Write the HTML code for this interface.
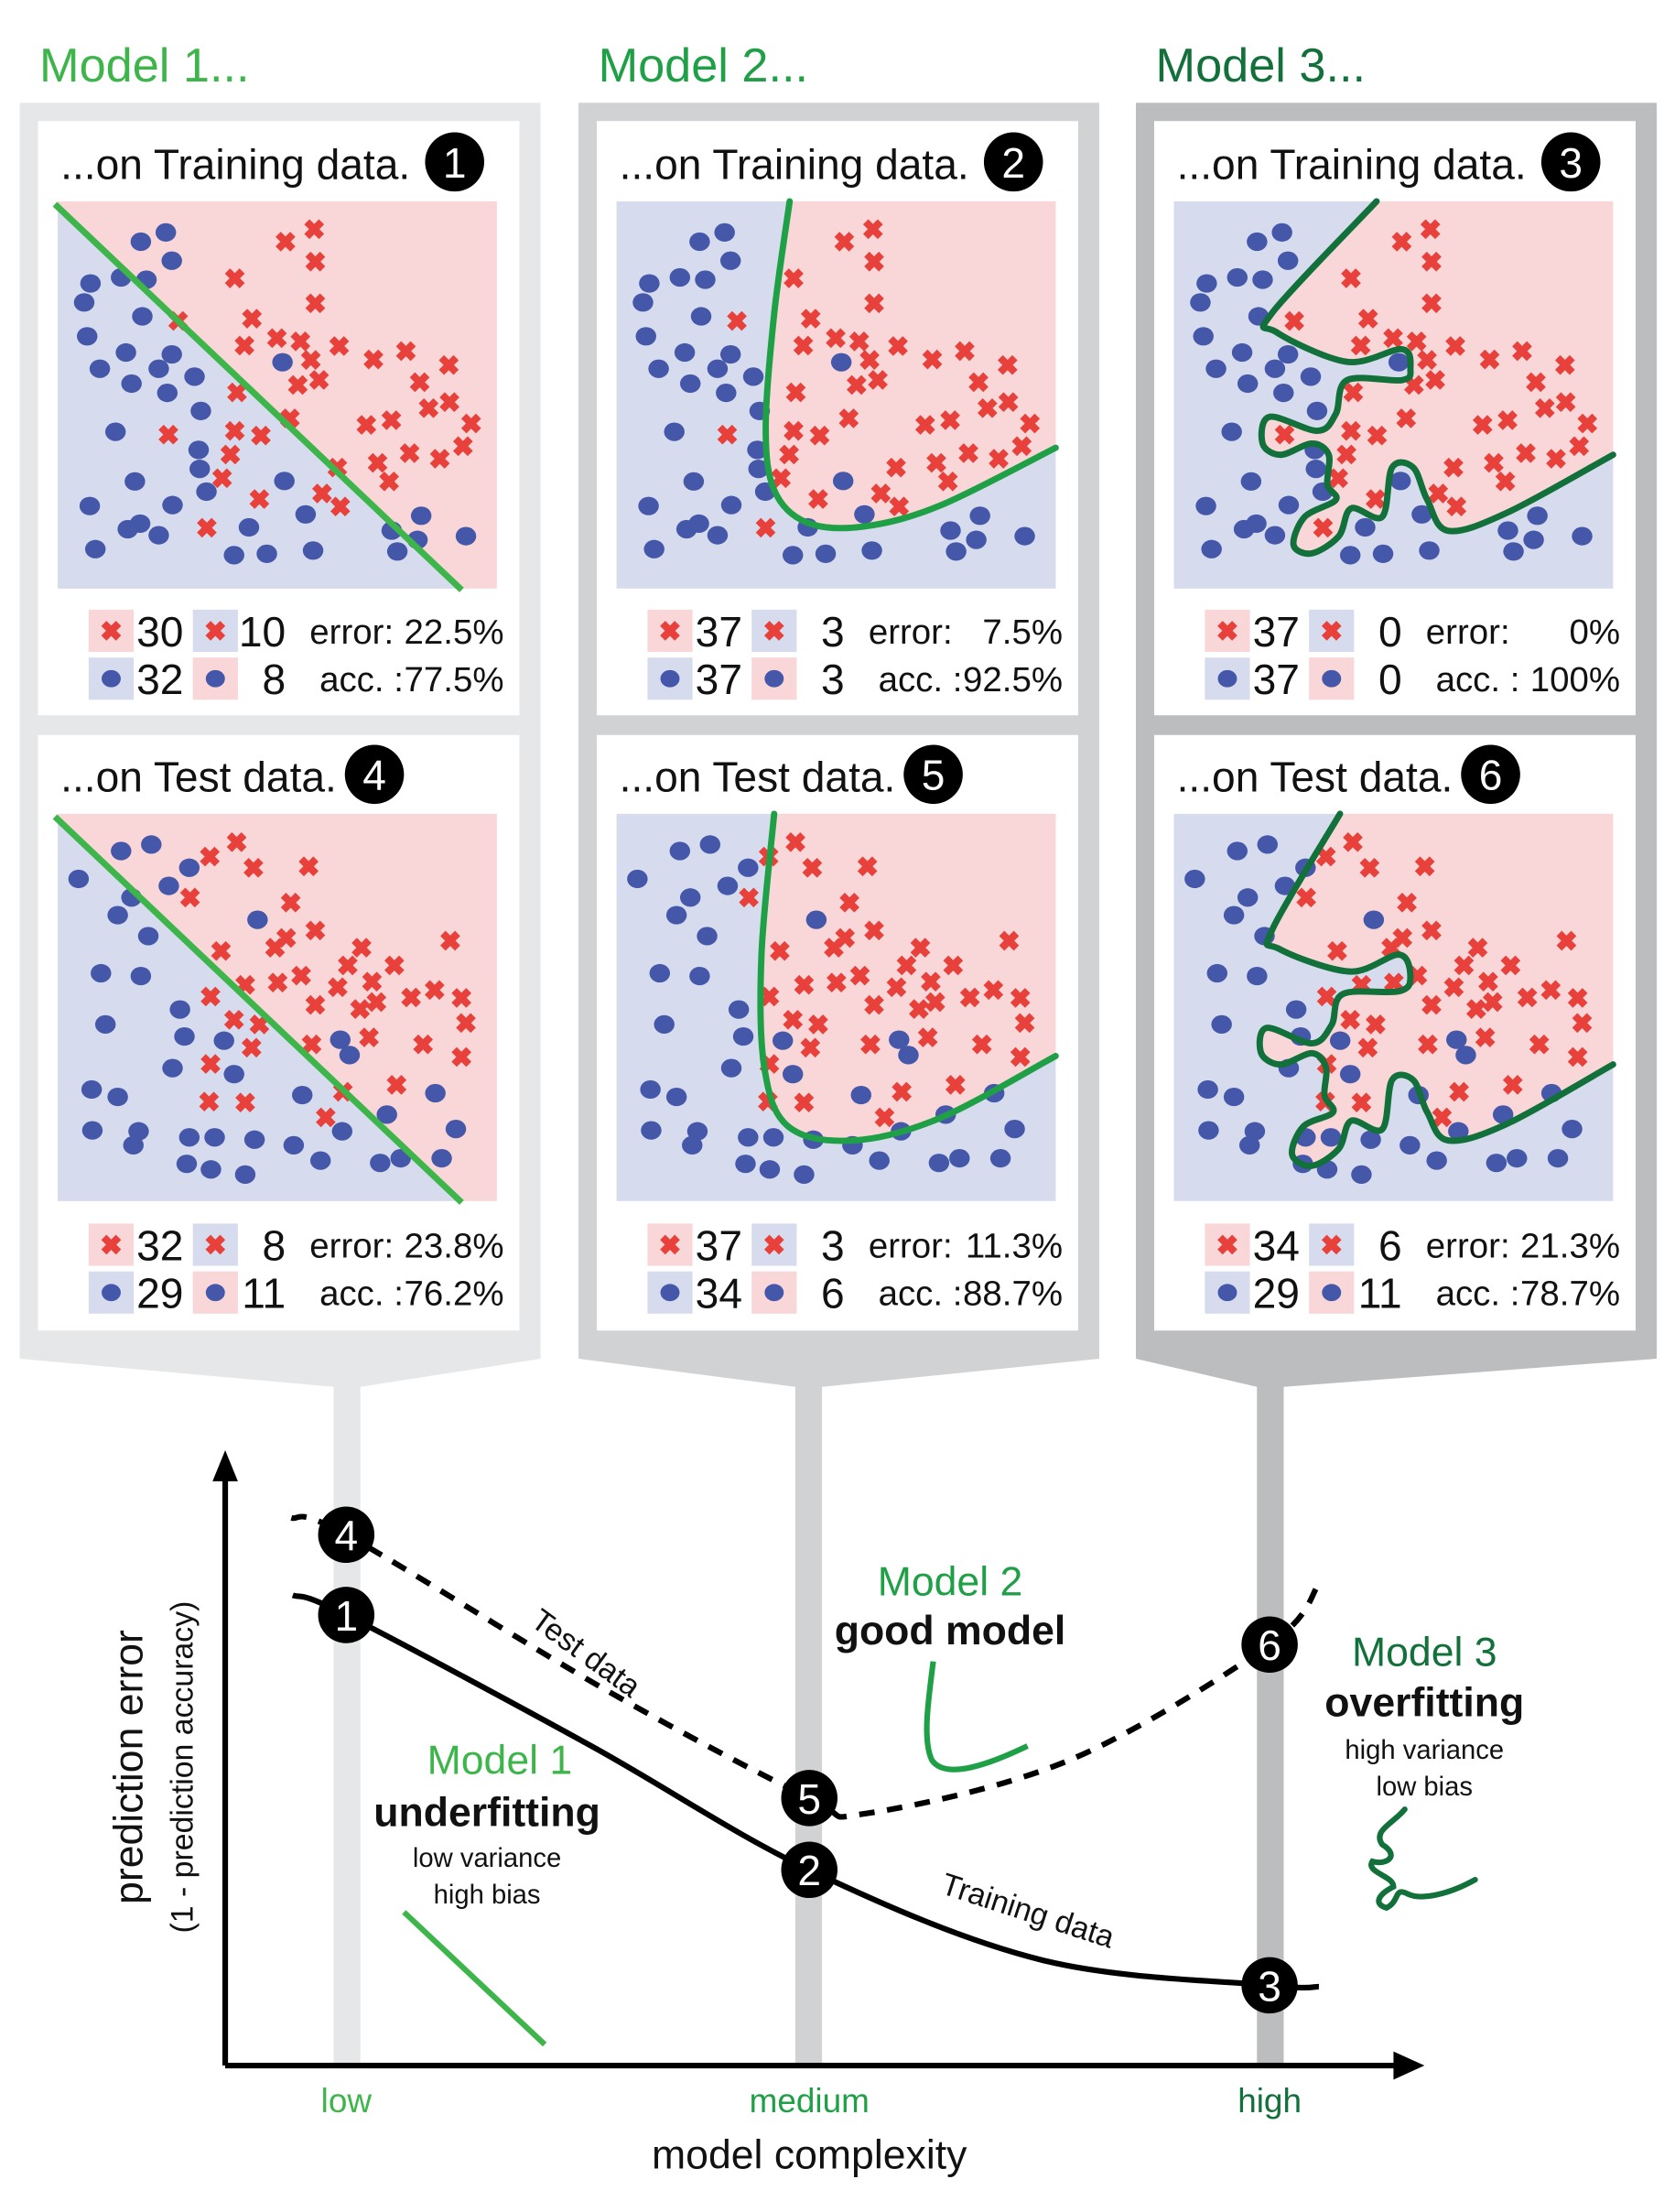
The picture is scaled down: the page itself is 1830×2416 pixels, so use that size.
<!DOCTYPE html>
<html><head><meta charset="utf-8"><style>
html,body{margin:0;padding:0;background:#fff}
svg{display:block}
text{font-family:"Liberation Sans","DejaVu Sans",sans-serif}
</style></head><body>
<svg id="fig" xmlns="http://www.w3.org/2000/svg" width="1830" height="2416" viewBox="0 0 1190 1571" preserveAspectRatio="none">
<g id="panels"></g>
<g id="bottom"></g>
</svg>
<script>
// ---- data: training sample (feature units) ----
const trainDotX=[447,380,463,245,327,395,228,384,236,340,463,428,270,355,451,524,760,541,312,535,538,364,556,765,243,465,378,345,428,258,670,630,718,822,842,1053,1132,1122,1068,1252];
const trainDotY=[497,517,558,607,594,599,648,678,721,756,760,791,791,823,843,808,777,882,927,966,1007,1034,1056,1033,1087,1085,1125,1137,1150,1180,1133,1193,1190,1105,1183,1140,1108,1160,1185,1152];
const trainCrossX=[845,768,848,632,848,678,480,658,745,808,912,836,1004,1091,1206,858,801,1128,638,1152,1208,780,985,1052,1266,454,632,702,620,1101,1244,1015,1182,907,598,1046,866,698,915,557];
const trainCrossY=[490,517,560,596,650,683,688,741,725,732,742,772,771,753,783,815,826,820,842,876,863,898,912,902,909,933,925,935,976,973,958,994,985,1004,1027,1034,1060,1072,1088,1134];
// ---- data: test sample ----
const testDotX=[213,327,408,510,455,355,318,400,693,273,380,285,485,497,603,465,630,248,318,813,915,940,250,374,360,510,578,685,790,920,1040,1170,1225,503,568,660,862,1022,1077,1187];
const testDotY=[357,297,283,333,372,397,435,480,445,560,566,670,638,696,705,764,777,810,826,822,703,736,898,900,930,913,913,918,930,900,864,818,895,970,982,993,963,968,958,958];
const testCrossX=[637,565,682,830,512,782,848,770,740,595,972,1210,935,1060,810,747,660,908,1000,567,1012,968,1105,1168,1240,848,630,698,1252,838,992,1137,677,1240,567,1066,922,563,660,876];
const testCrossY=[278,309,333,330,397,408,468,484,505,512,505,490,543,543,565,580,585,590,578,610,622,637,612,596,613,628,660,670,667,713,698,713,720,740,755,800,815,836,838,870];
// ---- legend values [redCorrect, redWrong, blueCorrect, blueWrong, error, acc] ----
const trainCounts=[["30","10","32","8","22.5%","77.5%"],["37","3","37","3","7.5%","92.5%"],["37","0","37","0","0%","100%"]];
const testCounts=[["32","8","29","11","23.8%","76.2%"],["37","3","34","6","11.3%","88.7%"],["34","6","29","11","21.3%","78.7%"]];
// ---- boundaries in plot-relative units (0..312 x 0..275) ----
const m1Line=[[-2,2],[287,276]];
const m2Train=[[123,0],[112,80],[106,160],[112,205],[135,228],[175,231],[230,216],[312,175]];
const m2Test=[[112,0],[103,100],[105,180],[122,222],[168,232],[230,216],[312,172]];
const m3Train=[[144,0],[70,79],[73,93],[123,114],[162,105],[168,119],[162,127],[123,127],[115,151],[102,163],[68,153],[63,172],[76,180],[98,172],[110,180],[109,201],[115,212],[93,224],[85,244],[98,250],[117,238],[126,218],[148,224],[155,189],[170,189],[180,212],[195,234],[237,221],[312,180]];
const m3Test=[[118,0],[70,82],[75,96],[125,112],[160,100],[168,116],[160,126],[120,128],[112,150],[98,163],[66,152],[62,170],[76,178],[98,170],[108,180],[107,200],[113,212],[92,222],[84,242],[98,250],[117,238],[126,218],[148,224],[155,189],[170,189],[180,212],[195,232],[237,220],[312,178]];
// ---- bottom chart ----
const colX=[246,575,902];
const trainErr=[1147,1328,1410];
const testErr=[1090,1277,1168];

const NS="http://www.w3.org/2000/svg";
function mk(tag,attrs,parent,txt){const e=document.createElementNS(NS,tag);for(const k in attrs)e.setAttribute(k,attrs[k]);if(txt!==undefined)e.textContent=txt;parent.appendChild(e);return e;}
function smooth(pts){let d="M"+pts[0][0]+","+pts[0][1];for(let i=0;i<pts.length-1;i++){const p0=pts[i-1]||pts[i],p1=pts[i],p2=pts[i+1],p3=pts[i+2]||p2;const c1=[p1[0]+(p2[0]-p0[0])/6,p1[1]+(p2[1]-p0[1])/6],c2=[p2[0]-(p3[0]-p1[0])/6,p2[1]-(p3[1]-p1[1])/6];d+=" C"+c1[0].toFixed(1)+","+c1[1].toFixed(1)+" "+c2[0].toFixed(1)+","+c2[1].toFixed(1)+" "+p2[0]+","+p2[1];}return d;}
const PINK="#f9d6d8",BLUE="#d6dcee",RED="#e8403a",DOT="#4557a8";
const greens=["#3db54a","#1fa047","#12703a"];
const outerCol=["#e6e7e8","#d1d2d4","#bcbdbf"];
const outerX=[14,411,807],cardX=[27,424,820],stripe=[237,565,893];
const panels=document.getElementById("panels");

function cross(g,x,y){const s=5.2;const c=mk("path",{d:`M${x-s},${y-s}L${x+s},${y+s}M${x+s},${y-s}L${x-s},${y+s}`,stroke:RED,"stroke-width":5.2,"stroke-linecap":"butt"},g);

}
function dot(g,x,y,r){const c=mk("ellipse",{cx:x,cy:y,rx:r||7.3,ry:(r||7.3)*0.9,fill:DOT},g);

}

function scatter(g,px,py,dx,dy,cx,cy,yDom){
  const sx=v=>px+(v-157)/1178*312, sy=v=>py+(v-yDom[0])/(yDom[1]-yDom[0])*275;
  for(let i=0;i<dx.length;i++)dot(g,sx(dx[i]),sy(dy[i]));
  for(let i=0;i<cx.length;i++)cross(g,sx(cx[i]),sy(cy[i]));
}
function plot(col,py,isTest){
  const px=cardX[col]+14;
  const g=mk("g",{},panels);
  const T=p=>[px+p[0],py+p[1]];
  if(col===0){
    mk("rect",{x:px,y:py,width:312,height:275,fill:PINK},g);
    const b=T(m1Line[1]);
    mk("polygon",{points:`${px},${py+3} ${b[0]},${py+275} ${px},${py+275}`,fill:BLUE},g);
  }else{
    mk("rect",{x:px,y:py,width:312,height:275,fill:BLUE},g);
    const pts=(col===1?(isTest?m2Test:m2Train):(isTest?m3Test:m3Train)).map(T);
    mk("path",{d:smooth(pts)+` L${px+312},${py} Z`,fill:PINK},g);
  }
  if(isTest)scatter(g,px,py,testDotX,testDotY,testCrossX,testCrossY,[217,1050]);
  else scatter(g,px,py,trainDotX,trainDotY,trainCrossX,trainCrossY,[430,1265]);
  let line;
  if(col===0){const a=T(m1Line[0]),b=T(m1Line[1]);line=mk("line",{x1:a[0],y1:a[1],x2:b[0],y2:b[1],stroke:greens[0],"stroke-width":4.5},g);}
  else{const pts=(col===1?(isTest?m2Test:m2Train):(isTest?m3Test:m3Train)).map(T);line=mk("path",{d:smooth(pts),fill:"none",stroke:greens[col],"stroke-width":4.5,"stroke-linecap":"round"},g);}
  
  
}
function legend(col,ly,vals){
  const x=cardX[col];
  const g=mk("g",{},panels);
  const rows=[[PINK,BLUE],[BLUE,PINK]];
  for(let r=0;r<2;r++){
    const y=ly+r*34;
    mk("rect",{x:x+36,y:y-15,width:32,height:30,fill:rows[r][0]},g);
    mk("rect",{x:x+110,y:y-15,width:32,height:30,fill:rows[r][1]},g);
    if(r===0){cross(g,x+52,y);cross(g,x+126,y);}else{dot(g,x+52,y,6.8);dot(g,x+126,y,6.8);}
    mk("text",{x:x+70,y:y+11,"font-size":30,fill:"#111"},g,vals[r===0?0:2]);
    mk("text",{x:x+176,y:y+11,"font-size":30,fill:"#111","text-anchor":"end"},g,vals[r===0?1:3]);
    mk("text",{x:x+(r===0?193:200),y:y+9,"font-size":25,fill:"#111"},g,r===0?"error:":"acc. :");
    mk("text",{x:x+331,y:y+9,"font-size":25,fill:"#111","text-anchor":"end"},g,vals[r===0?4:5]);
  }
}
function badge(g,cx,cy,n,r){mk("circle",{cx,cy,r:r||21,fill:"#000"},g);mk("text",{x:cx,y:cy+11,"font-size":30,fill:"#fff","text-anchor":"middle"},g,n);}

for(let c=0;c<3;c++){
  const o=outerX[c],s=stripe[c];
  const op=mk("polygon",{points:`${o},73 ${o+370},73 ${o+370},965 ${s+19},985 ${s+19},1465 ${s},1465 ${s},985 ${o},965`,fill:outerCol[c]},panels);
  
  
  mk("text",{x:o+14,y:58,"font-size":34,fill:greens[c],},panels,"Model "+(c+1)+"...");
  const cx=cardX[c];
  mk("rect",{x:cx,y:86,width:342,height:422,fill:"#fff",},panels);
  mk("rect",{x:cx,y:522,width:342,height:423,fill:"#fff",},panels);
  mk("text",{x:cx+16,y:127,"font-size":30,fill:"#111"},panels,"...on Training data.");
  mk("text",{x:cx+16,y:562,"font-size":30,fill:"#111"},panels,"...on Test data.");
  badge(panels,cx+296,115,String(c+1));
  badge(panels,cx+239,550,String(c+4));
  plot(c,143,false);plot(c,578,true);
  legend(c,448,trainCounts[c]);legend(c,884,testCounts[c]);
}

// ---- bottom chart ----
const B=document.getElementById("bottom");
const ax=mk("path",{d:"M160,1467 L160,1045 M160,1467 L995,1467",stroke:"#000","stroke-width":4,fill:"none"},B);

mk("polygon",{points:"160,1030 151,1052 169,1052",fill:"#000"},B);
mk("polygon",{points:"1012,1467 990,1457 990,1477",fill:"#000"},B);
const trPts=[[208,1133],[colX[0],trainErr[0]],[420,1240],[colX[1],trainErr[1]],[740,1392],[colX[2],trainErr[2]],[937,1411]];
const tsPts=[[207,1078],[colX[0],testErr[0]],[430,1200],[colX[1],testErr[1]],[615,1288],[760,1250],[colX[2],testErr[2]],[937,1125]];
const tr=mk("path",{d:smooth(trPts),fill:"none",stroke:"#000","stroke-width":4},B);

const ts=mk("path",{d:smooth(tsPts),fill:"none",stroke:"#000","stroke-width":4,"stroke-dasharray":"11 9"},B);

for(let i=0;i<3;i++){badge(B,colX[i],testErr[i],String(i+4),20);badge(B,colX[i],trainErr[i],String(i+1),20);}
mk("text",{x:0,y:0,"font-size":22,fill:"#111",transform:"translate(412,1180) rotate(36)","text-anchor":"middle"},B,"Test data");
mk("text",{x:0,y:0,"font-size":22,fill:"#111",transform:"translate(728,1364) rotate(18)","text-anchor":"middle"},B,"Training data");
mk("text",{x:675,y:1133,"font-size":29,fill:greens[1],"text-anchor":"middle"},B,"Model 2");
mk("text",{x:675,y:1168,"font-size":29,fill:"#111","font-weight":"bold","text-anchor":"middle"},B,"good model");
mk("path",{d:"M663,1180 C660,1205 655,1235 662,1250 C672,1265 705,1252 730,1240",fill:"none",stroke:greens[1],"stroke-width":4},B);
mk("text",{x:355,y:1260,"font-size":29,fill:greens[0],"text-anchor":"middle"},B,"Model 1");
mk("text",{x:346,y:1297,"font-size":29,fill:"#111","font-weight":"bold","text-anchor":"middle"},B,"underfitting");
mk("text",{x:346,y:1326,"font-size":19,fill:"#111","text-anchor":"middle"},B,"low variance");
mk("text",{x:346,y:1352,"font-size":19,fill:"#111","text-anchor":"middle"},B,"high bias");
mk("line",{x1:287,y1:1358,x2:387,y2:1452,stroke:greens[0],"stroke-width":4},B);
mk("text",{x:1012,y:1183,"font-size":29,fill:greens[2],"text-anchor":"middle"},B,"Model 3");
mk("text",{x:1012,y:1219,"font-size":29,fill:"#111","font-weight":"bold","text-anchor":"middle"},B,"overfitting");
mk("text",{x:1012,y:1249,"font-size":19,fill:"#111","text-anchor":"middle"},B,"high variance");
mk("text",{x:1012,y:1275,"font-size":19,fill:"#111","text-anchor":"middle"},B,"low bias");
mk("path",{d:"M998,1285 C990,1295 975,1300 982,1310 C995,1318 985,1325 975,1322 C970,1330 990,1332 990,1340 C980,1345 975,1352 985,1355 C995,1350 990,1340 1000,1345 C1010,1350 1030,1345 1048,1335",fill:"none",stroke:greens[2],"stroke-width":4,"stroke-linecap":"round"},B);
const tickTxt=["low","medium","high"];
for(let i=0;i<3;i++)mk("text",{x:colX[i],y:1500,"font-size":24,fill:greens[i],"text-anchor":"middle",},B,tickTxt[i]);
mk("text",{x:575,y:1540,"font-size":29,fill:"#111","text-anchor":"middle",},B,"model complexity");
mk("text",{x:0,y:0,"font-size":29,fill:"#111","text-anchor":"middle",transform:"translate(101,1255) rotate(-90)",},B,"prediction error");
mk("text",{x:0,y:0,"font-size":22,fill:"#111","text-anchor":"middle",transform:"translate(137,1255) rotate(-90)",},B,"(1 - prediction accuracy)");
</script>
</body></html>
